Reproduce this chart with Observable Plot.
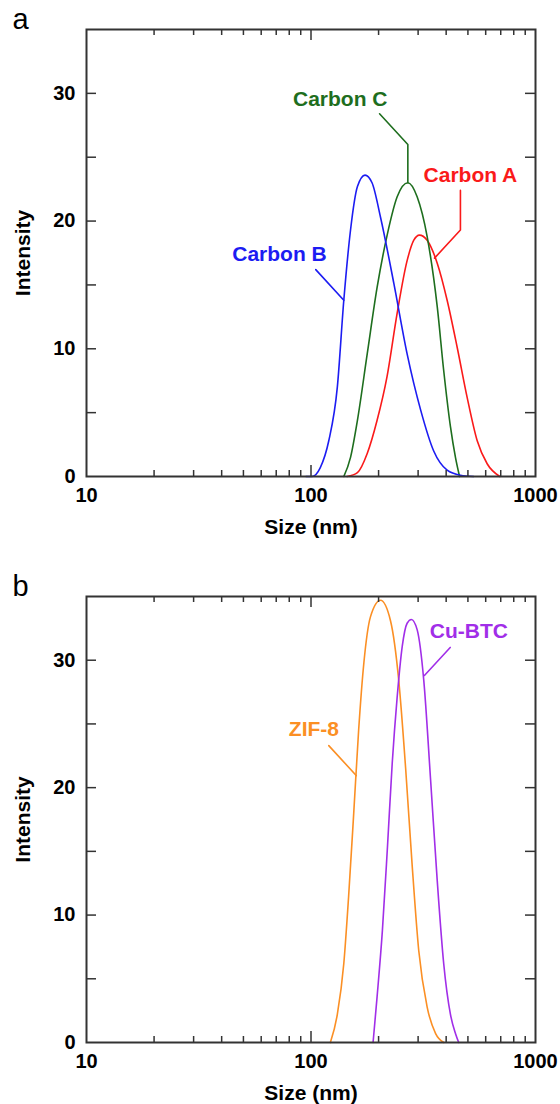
<!DOCTYPE html>
<html><head><meta charset="utf-8">
<script src="https://cdn.jsdelivr.net/npm/d3@7"></script>
<script src="https://cdn.jsdelivr.net/npm/@observablehq/plot@0.6"></script>
<style>body{margin:0;background:#fff} svg{display:block}</style>
</head><body><div id="chart"></div>
<script>
// ---- axes ----
const xTickLabels = [10, 100, 1000];
const xMinorTicks = [20, 30, 40, 50, 60, 70, 80, 90, 200, 300, 400, 500, 600, 700, 800, 900];
const xMajorTicks = [100];
const yTickLabels = [0, 10, 20, 30];
const yTicks = [5, 10, 15, 20, 25, 30];

// ---- panel a ----
const carbonA_size = [145, 161, 178, 197, 218, 242, 268, 287, 304, 329, 365, 404, 448, 496, 550, 609, 693];
const carbonA_int  = [0, 0.3, 1.8, 4.4, 7.8, 12.8, 16.9, 18.5, 18.9, 18.5, 16.7, 13.8, 10.1, 6.2, 2.8, 1.0, 0];
const carbonB_size = [95, 101, 110, 120, 131, 140, 150, 161, 174, 187, 204, 234, 268, 308, 352, 404, 463, 530];
const carbonB_int  = [0, 0, 0.7, 2.8, 7.0, 13.8, 19.3, 22.7, 23.6, 23.0, 20.3, 15.1, 9.6, 5.2, 2.0, 0.5, 0.1, 0];
const carbonC_size = [140, 150, 161, 178, 197, 219, 242, 270, 297, 329, 365, 390, 418, 440, 459];
const carbonC_int  = [0, 1.5, 4.4, 9.6, 14.8, 19.0, 21.9, 23.0, 21.9, 18.8, 13.3, 8.3, 3.9, 1.5, 0];

const labelsA_text = ["Carbon A", "Carbon B", "Carbon C"];
const labelsA_size = [513, 72.4, 135];
const labelsA_int  = [23.6, 17.4, 29.5];
const leaderA_size = [463, 463, 355];
const leaderA_int  = [22.4, 19.3, 17.1];
const leaderB_size = [105, 140];
const leaderB_int  = [16.2, 13.8];
const leaderC_size = [202, 270, 270];
const leaderC_int  = [28.4, 26.0, 23.0];

// ---- panel b ----
const zif8_size  = [122, 131, 140, 147, 155, 163, 172, 184, 204, 226, 246, 264, 282, 302, 329, 359, 390];
const zif8_int   = [0, 2.2, 6.2, 11.4, 18.0, 24.5, 29.8, 33.4, 34.7, 33.1, 28.4, 21.5, 14.0, 7.2, 2.8, 0.7, 0];
const cubtc_size = [189, 197, 208, 219, 230, 242, 255, 268, 280, 297, 318, 341, 365, 390, 418, 440, 455];
const cubtc_int  = [0, 3.6, 8.8, 15.3, 21.9, 27.1, 31.1, 32.9, 33.2, 32.4, 28.4, 20.6, 12.7, 6.2, 2.2, 0.7, 0];

const labelsB_text = ["ZIF-8", "Cu-BTC"];
const labelsB_size = [103, 505];
const labelsB_int  = [24.6, 32.25];
const leaderZ_size = [120, 159];
const leaderZ_int  = [23.3, 20.95];
const leaderCu_size = [417, 320];
const leaderCu_int  = [31.0, 28.8];

const colors = {red: "#fa1a1a", blue: "#1c1cf2", green: "#1e6e1e", orange: "#fb8f24", purple: "#a12ee8"};
const frameColor = "#333";

const pts = (xs, ys) => xs.map((x, i) => ({x, y: ys[i]}));

function panel({letter, series, leaders, labels, marginTop, marginBottom, height}) {
  const W = 560, mL = 86, mR = 25;
  const H = height - marginTop - marginBottom;
  const IW = W - mL - mR;
  return Plot.plot({
    width: W, height, marginLeft: mL, marginRight: mR, marginTop, marginBottom,
    style: {fontFamily: "'Liberation Sans', Arial, Helvetica, sans-serif", fontWeight: "bold", color: "#000", background: "#fff", overflow: "visible"},
    x: {type: "log", domain: [10, 1000]},
    y: {domain: [0, 35]},
    marks: [
      ...series.map(s => Plot.line(pts(s.size, s.int), {x: "x", y: "y", stroke: s.color, strokeWidth: 1.6, curve: "monotone-x"})),
      ...leaders.map(l => Plot.line(pts(l.size, l.int), {x: "x", y: "y", stroke: l.color, strokeWidth: 1.6})),
      Plot.text(labels.text.map((t, i) => ({t, x: labels.size[i], y: labels.int[i], c: labels.color[i]})),
        {x: "x", y: "y", text: "t", fill: d => d.c, fontSize: 21}),
      // inward ticks
      Plot.tickX(xMinorTicks, {x: d => d, insetTop: H - 6, stroke: frameColor, strokeWidth: 1.5}),
      Plot.tickX(xMinorTicks, {x: d => d, insetBottom: H - 6, stroke: frameColor, strokeWidth: 1.5}),
      Plot.tickX(xMajorTicks, {x: d => d, insetTop: H - 11, stroke: frameColor, strokeWidth: 1.5}),
      Plot.tickX(xMajorTicks, {x: d => d, insetBottom: H - 11, stroke: frameColor, strokeWidth: 1.5}),
      Plot.tickY(yTicks, {y: d => d, insetRight: IW - 10, stroke: frameColor, strokeWidth: 1.5}),
      Plot.tickY(yTicks, {y: d => d, insetLeft: IW - 10, stroke: frameColor, strokeWidth: 1.5}),
      Plot.frame({stroke: frameColor, strokeWidth: 2}),
      Plot.axisX({ticks: xTickLabels, tickFormat: d3.format("d"), tickSize: 0, tickPadding: 11, fontSize: 20, label: null}),
      Plot.axisY({ticks: yTickLabels, tickSize: 0, tickPadding: 11, fontSize: 20, label: null}),
      Plot.text(["Size (nm)"], {text: d => d, frameAnchor: "bottom", dy: 51, fontSize: 21, textAnchor: "middle", lineAnchor: "middle"}),
      Plot.text(["Intensity"], {text: d => d, frameAnchor: "left", dx: -63, rotate: -90, fontSize: 21, textAnchor: "middle", lineAnchor: "middle"}),
      Plot.text([letter], {text: d => d, frameAnchor: "top-left", dx: -74, dy: -10, textAnchor: "start", lineAnchor: "middle", fontSize: 29, fontWeight: "normal"})
    ]
  });
}

const chart = document.getElementById("chart");
chart.append(panel({
  letter: "a",
  series: [
    {size: carbonA_size, int: carbonA_int, color: colors.red},
    {size: carbonC_size, int: carbonC_int, color: colors.green},
    {size: carbonB_size, int: carbonB_int, color: colors.blue}
  ],
  leaders: [
    {size: leaderA_size, int: leaderA_int, color: colors.red},
    {size: leaderB_size, int: leaderB_int, color: colors.blue},
    {size: leaderC_size, int: leaderC_int, color: colors.green}
  ],
  labels: {text: labelsA_text, size: labelsA_size, int: labelsA_int, color: [colors.red, colors.blue, colors.green]},
  marginTop: 29, marginBottom: 64, height: 540
}));
chart.append(panel({
  letter: "b",
  series: [
    {size: zif8_size, int: zif8_int, color: colors.orange},
    {size: cubtc_size, int: cubtc_int, color: colors.purple}
  ],
  leaders: [
    {size: leaderZ_size, int: leaderZ_int, color: colors.orange},
    {size: leaderCu_size, int: leaderCu_int, color: colors.purple}
  ],
  labels: {text: labelsB_text, size: labelsB_size, int: labelsB_int, color: [colors.orange, colors.purple]},
  marginTop: 56, marginBottom: 62, height: 564
}));
</script>
</body></html>
